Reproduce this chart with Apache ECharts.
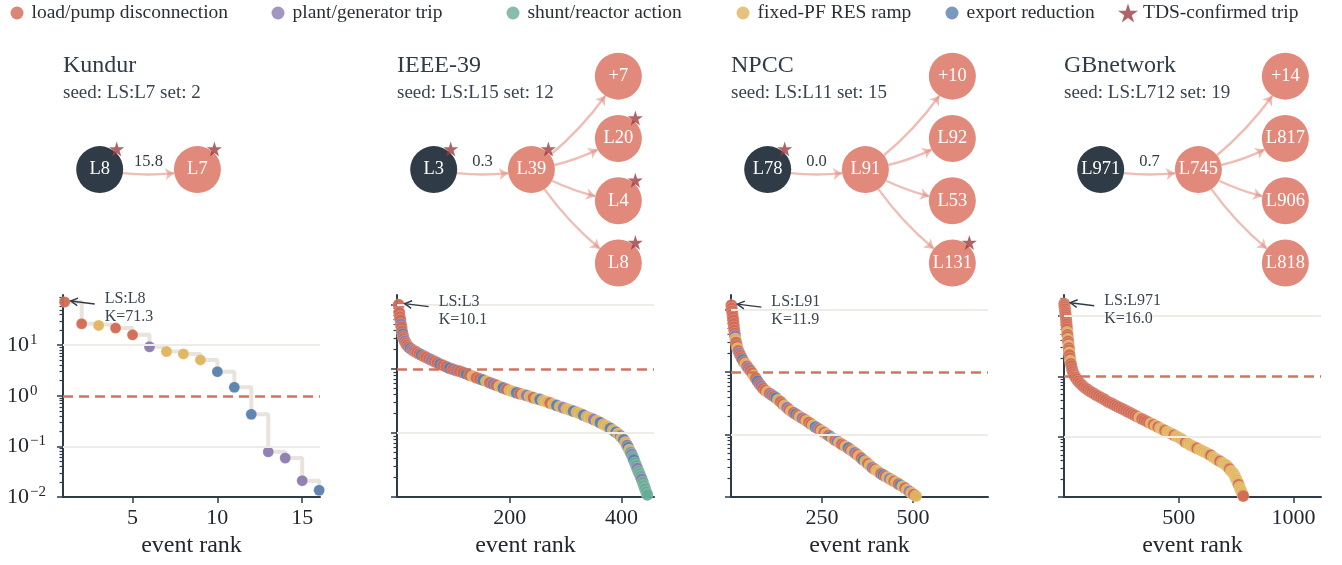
<!DOCTYPE html>
<html>
<head>
<meta charset="utf-8">
<script src="https://cdn.jsdelivr.net/npm/echarts@6/dist/echarts.min.js"></script>
<style>
  html, body { margin: 0; padding: 0; background: #fff; }
  #chart { width: 1342px; height: 565px; }
</style>
</head>
<body>
<div id="chart"></div>
<script>
// event categories (0..4) and colours
const categories = ['load/pump disconnection', 'plant/generator trip', 'shunt/reactor action', 'fixed-PF RES ramp', 'export reduction']
const catColors = ['#d06a53', '#8b7bb0', '#6aab98', '#e0b45c', '#5a7fae']
const starName = 'TDS-confirmed trip'

// Kundur
const kundurRank = [1, 2, 3, 4, 5, 6, 7, 8, 9, 10, 11, 12, 13, 14, 15, 16]
const kundurK = [71.3, 26.5, 24.6, 21.8, 16.0, 9.3, 7.5, 6.7, 5.1, 3.0, 1.47, 0.43, 0.078, 0.059, 0.021, 0.0136]
const kundurCat = [0, 0, 3, 0, 0, 1, 3, 3, 3, 4, 4, 4, 1, 1, 1, 4]

// IEEE-39
const ieeeRank = [1, 2, 3, 4, 5, 6, 7, 8, 9, 10, 12, 14, 16, 19, 22, 25, 28, 31, 34, 38, 42, 46, 50, 55, 60, 65, 70, 75, 80,
  86, 92, 98, 104, 110, 116, 122, 128, 134, 140, 146, 152, 158, 164, 170, 176, 182, 188, 194, 200,
  206, 212, 218, 224, 230, 236, 242, 248, 254, 260, 266, 272, 278, 284, 290, 296, 302, 308, 314, 320,
  326, 332, 338, 344, 350, 356, 362, 368, 374, 380, 385, 390, 394, 398, 401, 404, 407, 410,
  412, 414, 416, 418, 420, 422, 424, 426, 428, 430, 432, 434, 436, 438, 440, 442, 444, 446]
const ieeeK = [10.1, 7.6, 6.5, 5.8, 5.0, 4.5, 3.9, 3.5, 3.2, 2.95, 2.7, 2.5, 2.35, 2.2, 2.08, 2.0, 1.93, 1.86, 1.8,
  1.72, 1.65, 1.58, 1.52, 1.45, 1.38, 1.31, 1.25, 1.19, 1.14,
  1.08, 1.03, 0.99, 0.95, 0.92, 0.88, 0.84, 0.8, 0.77, 0.73, 0.7, 0.67, 0.64, 0.61, 0.58, 0.555, 0.53, 0.505, 0.48, 0.46,
  0.44, 0.425, 0.41, 0.398, 0.385, 0.37, 0.356, 0.343, 0.332, 0.32, 0.307, 0.294, 0.281, 0.269, 0.258, 0.248, 0.238, 0.228, 0.219, 0.21,
  0.2, 0.19, 0.18, 0.172, 0.163, 0.154, 0.145, 0.136, 0.127, 0.118, 0.11, 0.103, 0.097, 0.09, 0.084, 0.078, 0.071, 0.064,
  0.059, 0.054, 0.05, 0.046, 0.042, 0.038, 0.034, 0.031, 0.028, 0.025, 0.023, 0.021, 0.019, 0.017, 0.015, 0.0135, 0.012, 0.0108]
const ieeeCat = [0, 0, 0, 0, 1, 0, 0, 4, 0, 0, 1, 0, 0, 0, 4, 0, 1, 0, 0, 0, 4, 0, 0, 0, 1, 0, 0, 4, 0,
  0, 4, 0, 1, 0, 0, 4, 0, 3, 0, 0, 4, 3, 0, 1, 0, 3, 4, 0, 3,
  3, 4, 0, 3, 1, 3, 0, 3, 4, 3, 3, 0, 3, 4, 3, 1, 3, 3, 4, 3,
  3, 4, 3, 3, 1, 3, 4, 3, 3, 4, 3, 4, 3, 1, 3, 4, 3, 1,
  4, 3, 2, 1, 2, 4, 2, 2, 1, 2, 2, 2, 1, 2, 2, 2, 2, 2]

// NPCC
const npccRank = [1, 2, 3, 4, 5, 6, 7, 8, 9, 10, 11, 12, 14, 16, 18, 20, 23, 26, 29, 32, 36, 40, 44, 48,
  53, 58, 63, 68, 73, 78, 83, 88,
  94, 100, 106, 112, 118, 124, 130, 136, 142, 148, 154, 160, 166, 172, 178, 184, 190, 196, 202, 208,
  214, 220, 226, 232, 238, 244, 250, 256, 262, 268, 274, 280, 286, 292, 298, 304, 310, 316, 322, 328,
  334, 340, 346, 352, 358, 364, 370, 376, 382, 388, 394, 400, 406, 412, 418, 424, 430, 436, 442, 448,
  454, 460, 466, 472, 478, 484, 490, 496, 502, 508, 514]
const npccK = [11.9, 10.6, 9.5, 8.6, 7.6, 6.8, 6.0, 5.3, 4.7, 4.2, 3.8, 3.4, 3.0, 2.65, 2.4, 2.2, 2.0, 1.85, 1.7, 1.57,
  1.45, 1.35, 1.25, 1.16, 1.07, 0.97, 0.88, 0.8, 0.72, 0.65, 0.6, 0.55,
  0.51, 0.48, 0.455, 0.43, 0.41, 0.385, 0.36, 0.335, 0.31, 0.29, 0.27, 0.25, 0.235, 0.225, 0.213, 0.202, 0.192, 0.183, 0.175, 0.166,
  0.157, 0.148, 0.14, 0.133, 0.126, 0.12, 0.114, 0.108, 0.102, 0.097, 0.092, 0.087, 0.082, 0.078, 0.074, 0.07, 0.067, 0.064, 0.061, 0.057,
  0.054, 0.051, 0.048, 0.045, 0.042, 0.039, 0.037, 0.034, 0.032, 0.0295, 0.028, 0.0265, 0.025, 0.0235, 0.0225, 0.0215, 0.0205, 0.0196, 0.0188, 0.0179,
  0.0171, 0.0162, 0.0154, 0.0147, 0.014, 0.0131, 0.0123, 0.0116, 0.011, 0.0104, 0.0099]
const npccCat = [0, 0, 0, 0, 0, 0, 0, 0, 0, 0, 1, 3, 0, 0, 3, 0, 1, 0, 0, 4, 0, 3, 0, 1,
  0, 0, 3, 0, 4, 0, 1, 0,
  0, 3, 0, 1, 0, 4, 3, 0, 0, 3, 1, 0, 3, 0, 4, 0, 3, 1, 0, 3,
  0, 0, 3, 4, 1, 0, 3, 0, 3, 0, 4, 3, 0, 1, 3, 0, 0, 3, 4, 0,
  3, 1, 0, 3, 0, 4, 3, 0, 3, 1, 0, 3, 3, 0, 4, 0, 3, 1, 3, 0,
  3, 0, 4, 3, 0, 3, 1, 3, 0, 3, 0]

// GBnetwork
const gbRank = [1, 2, 3, 4, 5, 6, 7, 8, 9, 10, 11, 12, 13, 14, 15, 16, 17, 18, 19, 20, 21, 22, 23, 24,
  26, 28, 30, 32, 35, 38, 42, 46, 50, 55, 62, 70, 78, 86, 95, 104, 113, 122, 131, 140,
  150, 160, 170, 180, 190, 200, 210, 220, 230, 240, 250, 260, 270, 280, 290, 300, 310, 320, 330, 340,
  350, 360, 370, 380, 390, 400, 410, 420, 430, 440, 450, 460, 470, 480, 490, 500, 510, 520, 530, 540,
  550, 560, 570, 580, 590, 600, 610, 620, 630, 640, 650, 660, 670, 680, 690, 700,
  708, 715, 722, 728, 734, 740, 745, 749, 753, 757, 761, 765, 769, 773, 777, 781, 785]
const gbK = [16.0, 15.0, 14.0, 13.0, 12.0, 11.2, 10.4, 9.6, 8.8, 8.0, 7.3, 6.6, 6.0, 5.4, 4.9, 4.5, 4.1, 3.8, 3.5, 3.2, 2.95, 2.7, 2.45, 2.25,
  2.0, 1.8, 1.62, 1.48, 1.32, 1.2, 1.1, 1.02, 0.96, 0.9, 0.83, 0.77, 0.72, 0.67, 0.63, 0.6, 0.565, 0.54, 0.515, 0.49,
  0.467, 0.445, 0.424, 0.405, 0.38, 0.365, 0.35, 0.334, 0.319, 0.306, 0.293, 0.281, 0.268, 0.257, 0.246, 0.235, 0.224, 0.214, 0.205, 0.196,
  0.188, 0.18, 0.172, 0.165, 0.158, 0.151, 0.144, 0.138, 0.132, 0.126, 0.121, 0.116, 0.111, 0.106, 0.102, 0.097, 0.092, 0.087, 0.081, 0.077,
  0.073, 0.07, 0.067, 0.064, 0.061, 0.059, 0.056, 0.054, 0.051, 0.049, 0.046, 0.043, 0.041, 0.039, 0.037, 0.035,
  0.0335, 0.031, 0.029, 0.027, 0.0255, 0.024, 0.022, 0.0205, 0.019, 0.0175, 0.016, 0.0146, 0.0134, 0.0123, 0.0113, 0.0104, 0.0097]
const gbCat = [0, 0, 0, 0, 0, 0, 0, 0, 0, 0, 0, 0, 0, 3, 0, 0, 3, 0, 0, 3, 0, 0, 3, 0,
  0, 3, 0, 0, 0, 0, 0, 0, 0, 0, 0, 0, 0, 0, 0, 0, 0, 0, 0, 0,
  0, 0, 0, 0, 0, 0, 0, 0, 0, 0, 0, 0, 0, 0, 0, 0, 0, 0, 3, 0,
  0, 0, 0, 3, 0, 3, 0, 3, 3, 0, 3, 3, 3, 0, 3, 3, 3, 3, 0, 3,
  3, 3, 3, 0, 3, 3, 3, 3, 3, 0, 3, 3, 3, 0, 3, 3,
  3, 3, 0, 3, 3, 3, 3, 3, 3, 3, 0, 3, 3, 3, 3, 0, 0]

// panel texts and axis ranges
const panelNames = ['Kundur', 'IEEE-39', 'NPCC', 'GBnetwork']
const panelSeeds = ['seed: LS:L7 set: 2', 'seed: LS:L15 set: 12', 'seed: LS:L11 set: 15', 'seed: LS:L712 set: 19']
const annoLabels = ['LS:L8', 'LS:L3', 'LS:L91', 'LS:L971']
const xMin = [0.9, -2, 0, 0]
const xMax = [16.05, 458, 706, 1120]
const yMax = [98, 14.3, 17.3, 22.3]
const xTicks = [[5, 10, 15], [200, 400], [250, 500], [500, 1000]]
const yMajor = [0.01, 0.1, 1, 10]
const yMinor = [0.02, 0.03, 0.04, 0.05, 0.06, 0.07, 0.08, 0.09, 0.2, 0.3, 0.4, 0.5, 0.6, 0.7, 0.8, 0.9,
  2, 3, 4, 5, 6, 7, 8, 9, 20, 30, 40, 50, 60, 70, 80, 90]
const threshold = 1
const gridValues = [0.1, 10]

// cascade graphs: node 0 = seed line, node 1 = first trip, rest = next trips
const graphNodes = [['L8', 'L7'], ['L3', 'L39', '+7', 'L20', 'L4', 'L8'], ['L78', 'L91', '+10', 'L92', 'L53', 'L131'], ['L971', 'L745', '+14', 'L817', 'L906', 'L818']]
const graphStars = [[1, 1], [1, 1, 0, 1, 1, 1], [1, 0, 0, 0, 0, 1], [0, 0, 0, 0, 0, 0]]
const edgeLabels = ['15.8', '0.3', '0.0', '0.7']
const nodeCol = [0, 1, 1.89, 1.89, 1.89, 1.89]
const nodeRow = [0, 0, 1.5, 0.5, -0.5, -1.5]

const panelRank = [kundurRank, ieeeRank, npccRank, gbRank]
const panelK = [kundurK, ieeeK, npccK, gbK]
const panelCat = [kundurCat, ieeeCat, npccCat, gbCat]

const FONT = '"Liberation Serif", "DejaVu Serif", serif'
const INK = '#2f3b47'
const TICK_INK = '#23282e'
const NODE_DARK = '#2f3b47'
const NODE_LIGHT = '#e1897a'
const STAR_COLOR = '#9e3b3f'
const STAR_PATH = 'path://M50,2 L61.2,36.3 L97.6,36.3 L68.2,57.5 L79.4,91.8 L50,70.6 L20.6,91.8 L31.8,57.5 L2.4,36.3 L38.8,36.3 Z'

const plotLeft = [63, 397, 731, 1064]
const plotTop = 295
const plotW = 257
const plotH = 202

const chart = echarts.init(document.getElementById('chart'), null, { renderer: 'canvas' })

const grids = []
const xAxes = []
const yAxes = []
const series = []

// 0-3: rank plots, 4-7: graph panels
for (let i = 0; i < 4; i++) {
  grids.push({ left: plotLeft[i], top: plotTop, width: plotW, height: plotH, containLabel: false, outerBoundsMode: 'none' })
}
for (let i = 0; i < 4; i++) {
  grids.push({ left: plotLeft[i] + 36.7, top: 45, width: 195.4, height: 249.2, containLabel: false, outerBoundsMode: 'none' })
}

const supText = e => (e < 0 ? '\u2212' + (-e) : String(e))

for (let i = 0; i < 4; i++) {
  xAxes.push({
    type: 'value', gridIndex: i, min: xMin[i], max: xMax[i],
    axisLine: { onZero: false, lineStyle: { color: INK, width: 2 } },
    axisTick: { customValues: xTicks[i], length: 6, lineStyle: { color: INK, width: 1.5 } },
    axisLabel: { customValues: xTicks[i], formatter: v => String(v), fontSize: 22, fontFamily: FONT, color: TICK_INK, margin: 10 },
    splitLine: { show: false },
    name: 'event rank', nameLocation: 'middle', nameGap: 37,
    nameTextStyle: { fontSize: 24, fontFamily: FONT, color: TICK_INK },
  })
}
for (let i = 0; i < 4; i++) {
  xAxes.push({ type: 'value', gridIndex: 4 + i, min: 0, max: 2, show: false })
}

for (let i = 0; i < 4; i++) {
  yAxes.push({
    type: 'log', logBase: 10, gridIndex: i, min: 0.01, max: yMax[i],
    axisLine: { show: true, onZero: false, lineStyle: { color: INK, width: 2 } },
    axisTick: { customValues: yMajor, length: 6, lineStyle: { color: INK, width: 1.5 } },
    axisLabel: {
      show: i === 0,
      customValues: yMajor,
      align: 'left',
      margin: 56,
      formatter: v => '{b|10}{s|' + supText(Math.round(Math.log10(v))) + '}',
      rich: {
        b: { fontSize: 22, fontFamily: FONT, color: TICK_INK, lineHeight: 26 },
        s: { fontSize: 15, fontFamily: FONT, color: TICK_INK, lineHeight: 15, padding: [0, 0, 10, 1] },
      },
    },
    splitLine: { show: false },
  })
}
for (let i = 0; i < 4; i++) {
  yAxes.push({
    type: 'log', logBase: 10, gridIndex: i, min: 0.01, max: yMax[i], position: 'left',
    axisLine: { show: false, onZero: false },
    axisTick: { customValues: yMinor.filter(v => v < yMax[i]), length: 3.5, lineStyle: { color: INK, width: 1.2 } },
    axisLabel: { show: false },
    splitLine: { show: false },
  })
}
for (let i = 0; i < 4; i++) {
  yAxes.push({ type: 'value', gridIndex: 4 + i, min: -2, max: 2, show: false })
}

// reference lines (below the points)
for (let i = 0; i < 4; i++) {
  series.push({
    type: 'scatter', xAxisIndex: i, yAxisIndex: i, data: [], z: 1, silent: true,
    markLine: {
      silent: true, symbol: ['none', 'none'], label: { show: false }, animation: false,
      data: [
        ...gridValues.map(v => ({ yAxis: v, lineStyle: { color: '#efebe6', width: 2, type: 'solid' } })),
        { yAxis: threshold, lineStyle: { color: '#d4735c', width: 2.5, type: [10, 6] } },
      ],
    },
  })
}

// Kundur step trace
series.push({
  type: 'line', xAxisIndex: 0, yAxisIndex: 0, step: 'end', symbol: 'none', z: 2, silent: true,
  data: kundurRank.map((r, j) => [r, kundurK[j]]),
  lineStyle: { color: '#e8e4dd', width: 4 },
})

// ranked events
const scatterIdx = []
for (let i = 0; i < 4; i++) {
  scatterIdx.push(series.length)
  series.push({
    type: 'scatter', xAxisIndex: i, yAxisIndex: i, symbolSize: i === 0 ? 11 : 12, z: 3, silent: true,
    data: panelRank[i].map((r, j) => ({
      value: [r, panelK[i][j]],
      itemStyle: { color: catColors[panelCat[i][j]] },
    })),
    itemStyle: { opacity: 0.95, borderColor: 'rgba(255,255,255,0.45)', borderWidth: 0.5 },
  })
}

// cascade graphs
for (let i = 0; i < 4; i++) {
  const names = graphNodes[i]
  const nodes = names.map((n, j) => ({
    name: n,
    value: [nodeCol[j], nodeRow[j]],
    itemStyle: { color: j === 0 ? NODE_DARK : NODE_LIGHT },
  }))
  const links = [{
    source: names[0], target: names[1],
    label: { show: true, formatter: edgeLabels[i], position: 'middle', fontSize: 16.5, fontFamily: FONT, color: INK, distance: 4 },
  }]
  for (let j = 2; j < names.length; j++) links.push({ source: names[1], target: names[j] })
  series.push({
    type: 'graph', layout: 'none', coordinateSystem: 'cartesian2d', xAxisIndex: 4 + i, yAxisIndex: 8 + i,
    symbolSize: 47, z: 4, silent: true, roam: false,
    data: nodes, links: links,
    edgeSymbol: ['circle', 'arrow'], edgeSymbolSize: [0.1, 9],
    label: { show: true, position: 'inside', color: '#fff', fontSize: 18.5, fontFamily: FONT },
    edgeLabel: { show: false },
    lineStyle: { color: 'rgba(224,137,122,0.55)', width: 2.4, curveness: -0.1, opacity: 1 },
    emphasis: { disabled: true },
  })
  series.push({
    type: 'scatter', name: starName, xAxisIndex: 4 + i, yAxisIndex: 8 + i, z: 5, silent: true,
    symbol: STAR_PATH, symbolSize: 15, symbolOffset: [17, -20.5],
    itemStyle: { color: STAR_COLOR },
    data: names.map((n, j) => [nodeCol[j], nodeRow[j], graphStars[i][j]]).filter(d => d[2]).map(d => [d[0], d[1]]),
  })
}

// legend-only series
categories.forEach((c, k) => {
  series.push({ type: 'scatter', name: c, xAxisIndex: 0, yAxisIndex: 0, data: [], symbol: 'circle', itemStyle: { color: catColors[k] } })
})

const legendNames = [...categories, starName]
const legendX = [17, 278, 513, 743, 952, 1128]
const legends = legendNames.map((n, k) => {
  const size = k === 5 ? 20 : 13
  return {
    data: [n], left: legendX[k] - size / 2, top: 3, padding: 0,
    itemWidth: size, itemHeight: size, selectedMode: false,
    icon: k === 5 ? STAR_PATH : 'circle',
    textStyle: { fontSize: 19.5, fontFamily: FONT, color: '#2a2f36', padding: [0, 0, 0, k === 5 ? 0 : 3] },
  }
})

const titles = panelNames.map((t, i) => ({
  text: t, subtext: panelSeeds[i], left: plotLeft[i], top: 54, padding: 0, itemGap: 6,
  textStyle: { fontSize: 24, fontWeight: 'normal', fontFamily: FONT, color: INK },
  subtextStyle: { fontSize: 19, fontFamily: FONT, color: '#3a4450' },
}))

chart.setOption({
  animation: false,
  backgroundColor: '#ffffff',
  textStyle: { fontFamily: FONT },
  title: titles,
  legend: legends,
  grid: grids,
  xAxis: xAxes,
  yAxis: yAxes,
  series: series,
})

// "LS:... / K=..." arrows pointing at the top-ranked event
function annotations() {
  const out = []
  for (let i = 0; i < 4; i++) {
    const p = chart.convertToPixel({ seriesIndex: scatterIdx[i] }, [panelRank[i][0], panelK[i][0]])
    const hx = p[0], hy = p[1]
    const tip = [hx + 6, hy - 1]
    const tail = [hx + 30, hy + 2]
    const ang = Math.atan2(tail[1] - tip[1], tail[0] - tip[0])
    const h1 = [tip[0] + 8 * Math.cos(ang + 0.5), tip[1] + 8 * Math.sin(ang + 0.5)]
    const h2 = [tip[0] + 8 * Math.cos(ang - 0.5), tip[1] + 8 * Math.sin(ang - 0.5)]
    out.push({ type: 'polyline', silent: true, z: 10, shape: { points: [tail, tip] }, style: { stroke: INK, lineWidth: 1.4, fill: null } })
    out.push({ type: 'polyline', silent: true, z: 10, shape: { points: [h1, tip, h2] }, style: { stroke: INK, lineWidth: 1.4, fill: null } })
    out.push({
      type: 'text', silent: true, z: 10, x: hx + 40, y: hy - 12,
      style: { text: annoLabels[i] + '\nK=' + panelK[i][0].toFixed(1), font: '16px ' + FONT, fill: '#3b4550', lineHeight: 18, verticalAlign: 'top' },
    })
  }
  return out
}
chart.setOption({ graphic: annotations() })
</script>
</body>
</html>
